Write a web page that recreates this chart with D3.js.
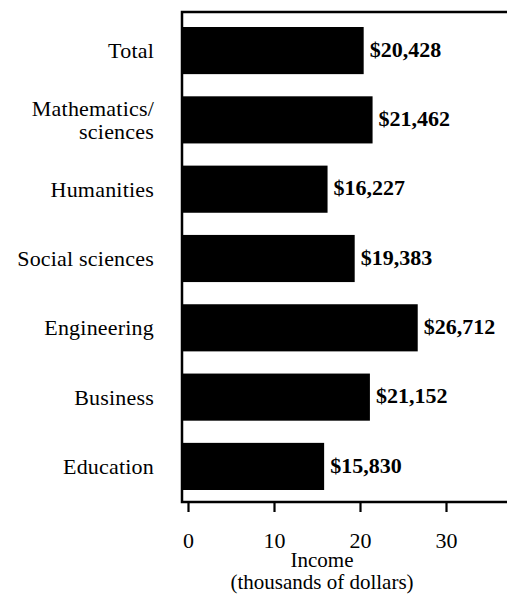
<!DOCTYPE html>
<html>
<head>
<meta charset="utf-8">
<script src="https://cdn.jsdelivr.net/npm/d3@7"></script>
<style>
  html, body { margin: 0; padding: 0; background: #fff; }
  svg { display: block; }
  text { font-family: "Liberation Serif", "Times New Roman", serif; fill: #000; }
</style>
</head>
<body>
<svg id="chart" width="507" height="599"></svg>
<script>
const categories = [["Total"], ["Mathematics/", "sciences"], ["Humanities"], ["Social sciences"], ["Engineering"], ["Business"], ["Education"]];
const incomes = [20428, 21462, 16227, 19383, 26712, 21152, 15830];
const tickValues = [0, 10, 20, 30];
const axisTitle = ["Income", "(thousands of dollars)"];

const svg = d3.select("#chart");
const frameLeft = 182, frameTop = 12, frameBottom = 502, frameRight = 507;

const x = d3.scaleLinear().domain([0, 30]).range([188, 446]);
const y = d3.scaleBand().domain(d3.range(categories.length)).range([27, 490]).paddingInner(0.32).paddingOuter(0);

const ink = "#000";

// bars
svg.append("g").selectAll("rect").data(incomes).join("rect")
  .attr("x", frameLeft)
  .attr("y", (d, i) => y(i))
  .attr("width", d => x(d / 1000) - frameLeft)
  .attr("height", y.bandwidth())
  .attr("fill", ink);

// frame
svg.append("path")
  .attr("d", `M${frameRight},${frameTop} H${frameLeft} V${frameBottom} H${frameRight}`)
  .attr("fill", "none").attr("stroke", ink).attr("stroke-width", 2.5);

// category labels
const lab = svg.append("g").selectAll("text").data(categories).join("text")
  .attr("text-anchor", "end")
  .attr("font-size", 22)
  .attr("letter-spacing", 0.2)
  .attr("x", 154)
  .attr("y", (d, i) => y(i) + y.bandwidth() / 2);
lab.each(function(lines) {
  const t = d3.select(this);
  if (lines.length === 1) {
    t.append("tspan").attr("x", 154).attr("dy", "0.34em").text(lines[0]);
  } else {
    t.append("tspan").attr("x", 154).attr("dy", "-0.18em").text(lines[0]);
    t.append("tspan").attr("x", 154).attr("dy", "1.05em").text(lines[1]);
  }
});

// value labels
svg.append("g").selectAll("text").data(incomes).join("text")
  .attr("x", d => x(d / 1000) + 6)
  .attr("y", (d, i) => y(i) + y.bandwidth() / 2)
  .attr("dy", "0.28em")
  .attr("font-size", 22)
  .attr("font-weight", "bold")
  .text(d => "$" + d3.format(",")(d));

// x axis ticks
const axis = d3.axisBottom(x).tickValues(tickValues).tickSize(10).tickPadding(20).tickFormat(d3.format("d"));
const ag = svg.append("g").attr("transform", `translate(0,${frameBottom})`).call(axis);
ag.select(".domain").remove();
ag.selectAll(".tick line").attr("stroke", ink).attr("stroke-width", 2.2);
ag.selectAll(".tick text")
  .attr("font-family", "Liberation Serif, serif")
  .attr("font-size", 22)
  .attr("fill", ink);

// axis title
svg.append("g").selectAll("text").data(axisTitle).join("text")
  .attr("x", 322)
  .attr("y", (d, i) => 567 + i * 22)
  .attr("text-anchor", "middle")
  .attr("font-size", 21)
  .text(d => d);
</script>
</body>
</html>
